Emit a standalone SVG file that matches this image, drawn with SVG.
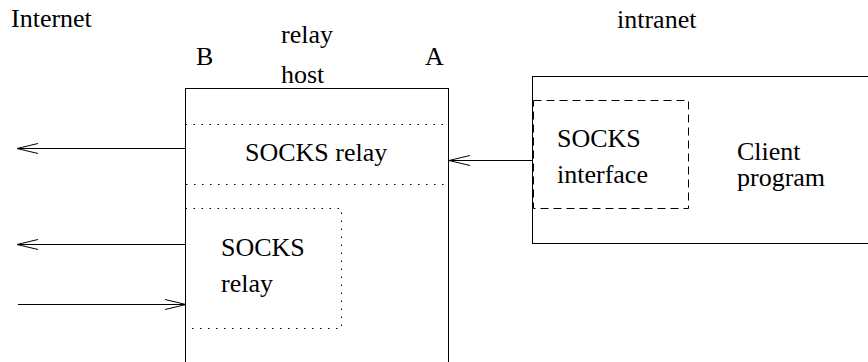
<svg xmlns="http://www.w3.org/2000/svg" width="868" height="362" viewBox="0 0 868 362">
<style>
text{font-family:'Liberation Serif','Times New Roman',Times,serif;font-size:26px;fill:#000}
.box{fill:none;stroke:#000;stroke-width:1}
.dot{fill:none;stroke:#000;stroke-width:1;stroke-dasharray:1.5 6.5}
.dash{fill:none;stroke:#000;stroke-width:1;stroke-dasharray:8 5}
.conn{fill:none;stroke:#000;stroke-width:1;marker-end:url(#ah)}
</style>
<defs>
<marker id="ah" viewBox="0 0 22 12" refX="21" refY="6" markerWidth="22" markerHeight="12" markerUnits="userSpaceOnUse" orient="auto">
<path d="M0,1 L21,6 L0,11" fill="none" stroke="#000" stroke-width="1"/>
</marker>
</defs>
<rect width="868" height="362" fill="#fff"/>
<g font-family="Liberation Serif, Times New Roman, serif" font-size="26">
<g id="labels">
<text x="11" y="27">Internet</text>
<text x="617" y="28">intranet</text>
</g>
<g id="relay-host">
<rect class="box" x="185.5" y="88.5" width="263" height="290"/>
<text x="281" y="43">relay</text>
<text x="281" y="83">host</text>
<text x="196" y="65">B</text>
<text x="425" y="65">A</text>
</g>
<g id="socks-relay-1">
<rect class="dot" x="185.5" y="124.5" width="263" height="60"/>
<text x="245" y="161">SOCKS relay</text>
</g>
<g id="socks-relay-2">
<rect class="dot" x="185.5" y="208.5" width="156" height="120"/>
<text x="221" y="256">SOCKS</text>
<text x="221" y="292">relay</text>
</g>
<g id="client">
<rect class="box" x="532.5" y="76.5" width="345" height="167"/>
<text x="737" y="160">Client</text>
<text x="737" y="186">program</text>
</g>
<g id="socks-interface">
<rect class="dash" x="533.5" y="100.5" width="155" height="108"/>
<text x="557" y="147">SOCKS</text>
<text x="557" y="183">interface</text>
</g>
</g>
<g id="connectors">
<line class="conn" x1="185" y1="148.5" x2="17" y2="148.5"/>
<line class="conn" x1="185" y1="244.5" x2="17" y2="244.5"/>
<line class="conn" x1="18" y1="304.5" x2="186" y2="304.5"/>
<line class="conn" x1="532" y1="160.5" x2="449" y2="160.5"/>
</g>
</svg>
